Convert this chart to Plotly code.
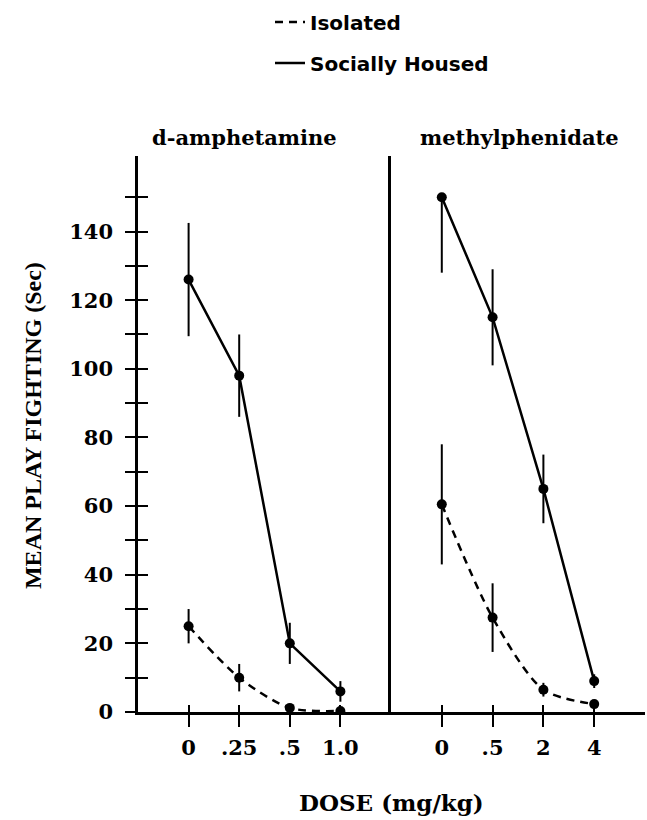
import plotly.graph_objects as go

# ---------------- data ----------------
amph_doses = ["0", ".25", ".5", "1.0"]
mph_doses = ["0", ".5", "2", "4"]

amph_social = [126, 98, 20, 6]
amph_social_err = [16.5, 12, 6, 3]
amph_isol = [25, 10, 1.2, 0.3]
amph_isol_err = [5, 4, 1, 0.5]

mph_social = [150, 115, 65, 9]
mph_social_err_up = [0, 14, 10, 2]
mph_social_err_down = [22, 14, 10, 2]
mph_isol = [60.5, 27.5, 6.5, 2.3]
mph_isol_err = [17.5, 10, 2, 1]

y_tickvals = [0, 10, 20, 30, 40, 50, 60, 70, 80, 90, 100, 110, 120, 130, 140, 150]
y_ticktext = ["0", "", "20", "", "40", "", "60", "", "80", "", "100", "", "120", "", "140", ""]

series_names = ["Isolated", "Socially Housed"]
panel_titles = ["d-amphetamine", "methylphenidate"]
y_title = "MEAN PLAY FIGHTING (Sec)"
x_title = "DOSE (mg/kg)"

# ---------------- style ----------------
BLACK = "black"
DASH = "8px,6px"
LW = 2.5
YMAX = 162
TICKFONT = dict(family="DejaVu Serif", size=21, color=BLACK, weight="bold")

fig = go.Figure()


def add_series(x, y, err_up, err_down, dash, xa, ya, shape):
    fig.add_trace(go.Scatter(
        x=x, y=y, xaxis=xa, yaxis=ya, mode="lines+markers",
        line=dict(color=BLACK, width=LW, dash=dash, shape=shape, smoothing=0.8),
        marker=dict(color=BLACK, size=10, symbol="circle"),
        error_y=dict(type="data", symmetric=False, array=err_up, arrayminus=err_down,
                     color=BLACK, thickness=2, width=0),
        showlegend=False, hoverinfo="skip"))


add_series(amph_doses, amph_social, amph_social_err, amph_social_err, "solid", "x", "y", "linear")
add_series(amph_doses, amph_isol, amph_isol_err, amph_isol_err, DASH, "x", "y", "spline")
add_series(mph_doses, mph_social, mph_social_err_up, mph_social_err_down, "solid", "x2", "y2", "linear")
add_series(mph_doses, mph_isol, mph_isol_err, mph_isol_err, DASH, "x2", "y2", "spline")

# invisible traces to register the overlay axes (used for crossing ticks)
for xa, ya, xs, ys in [("x3", "y", amph_doses, amph_isol),
                       ("x4", "y2", mph_doses, mph_isol),
                       ("x", "y3", amph_doses, amph_social)]:
    fig.add_trace(go.Scatter(x=xs, y=ys, xaxis=xa, yaxis=ya, mode="markers",
                             marker=dict(opacity=0), showlegend=False, hoverinfo="skip"))

# legend-only entries
for i, (name, dash) in enumerate(zip(series_names, [DASH, "solid"])):
    fig.add_trace(go.Scatter(x=[None], y=[None], mode="lines", name=name,
                             legendgroup=name,
                             line=dict(color=BLACK, width=LW, dash=dash)))

common_x = dict(type="category", range=[-1, 4], showgrid=False, zeroline=False,
                showline=True, linecolor=BLACK, linewidth=LW,
                ticks="outside", ticklen=12, tickwidth=2, tickcolor=BLACK,
                tickfont=TICKFONT, ticklabelstandoff=3)
inside_x = dict(type="category", range=[-1, 4], showgrid=False, zeroline=False,
                showline=False, ticks="inside", ticklen=7, tickwidth=2,
                tickcolor=BLACK, showticklabels=False)

SPLIT = 0.499
fig.update_layout(
    width=647, height=820,
    margin=dict(l=138, r=2, t=154, b=108),
    paper_bgcolor="white", plot_bgcolor="white",
    xaxis=dict(domain=[0, SPLIT], anchor="y", categoryarray=amph_doses,
               categoryorder="array", **common_x),
    xaxis2=dict(domain=[SPLIT, 1], anchor="y2", categoryarray=mph_doses,
                categoryorder="array", **common_x),
    xaxis3=dict(domain=[0, SPLIT], anchor="y", overlaying="x",
                categoryarray=amph_doses, categoryorder="array", **inside_x),
    xaxis4=dict(domain=[SPLIT, 1], anchor="y2", overlaying="x2",
                categoryarray=mph_doses, categoryorder="array", **inside_x),
    yaxis=dict(range=[0, YMAX], anchor="x", showgrid=False, zeroline=False,
               showline=True, linecolor=BLACK, linewidth=LW,
               tickmode="array", tickvals=y_tickvals, ticktext=y_ticktext,
               ticks="outside", ticklen=10, tickwidth=2, tickcolor=BLACK,
               tickfont=TICKFONT, ticklabelstandoff=8),
    yaxis2=dict(range=[0, YMAX], anchor="x2", matches="y", showgrid=False,
                zeroline=False, showline=True, linecolor=BLACK, linewidth=LW,
                ticks="", showticklabels=False),
    yaxis3=dict(range=[0, YMAX], anchor="x", overlaying="y", side="left",
                showgrid=False, zeroline=False, showline=False,
                tickmode="array", tickvals=y_tickvals, ticks="inside",
                ticklen=10, tickwidth=2, tickcolor=BLACK, showticklabels=False),
    legend=dict(x=(270 - 138) / 507, y=712 / 558, xanchor="left", yanchor="top",
                bgcolor="rgba(0,0,0,0)", tracegroupgap=12,
                font=dict(family="DejaVu Sans", size=20, color=BLACK, weight="bold")),
    showlegend=True,
)

# axis titles and panel titles
fig.add_annotation(text=y_title, xref="paper", yref="paper", x=(33 - 138) / 507,
                   y=(712 - 425) / 558, xanchor="center", yanchor="middle",
                   textangle=-90, showarrow=False,
                   font=dict(family="Liberation Serif", size=24, color=BLACK, weight="bold"))
title_font = dict(family="DejaVu Serif", size=21, color=BLACK, weight="bold")
for text, cx in zip(panel_titles, [0.211, 0.753]):
    fig.add_annotation(text=text, xref="paper", yref="paper", x=cx, y=(712 - 135) / 558,
                       xanchor="center", yanchor="middle", showarrow=False, font=title_font)
fig.add_annotation(text=x_title, xref="paper", yref="paper", x=0.5, y=(712 - 803) / 558,
                   xanchor="center", yanchor="middle", showarrow=False,
                   font=dict(family="DejaVu Serif", size=23, color=BLACK, weight="bold"))

fig.write_html("out.html")
